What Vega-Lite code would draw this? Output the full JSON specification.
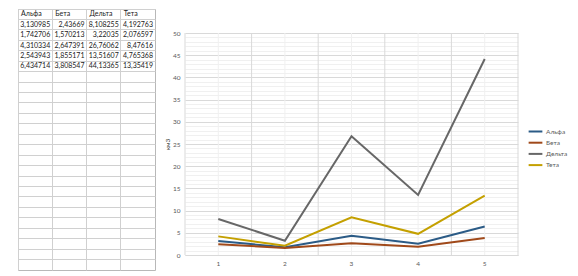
{
  "$schema": "https://vega.github.io/schema/vega-lite/v6.json",
  "padding": {"left": 17, "top": 8, "right": 0, "bottom": 0},
  "background": "white",
  "spacing": 8,
  "config": {"font": "Lato"},
  "data": {"values": [
    {"series": "Альфа", "x": 1, "value": 3.130985, "label": "3,130985"},
    {"series": "Альфа", "x": 2, "value": 1.742706, "label": "1,742706"},
    {"series": "Альфа", "x": 3, "value": 4.310334, "label": "4,310334"},
    {"series": "Альфа", "x": 4, "value": 2.543943, "label": "2,543943"},
    {"series": "Альфа", "x": 5, "value": 6.434714, "label": "6,434714"},
    {"series": "Бета", "x": 1, "value": 2.43669, "label": "2,43669"},
    {"series": "Бета", "x": 2, "value": 1.570213, "label": "1,570213"},
    {"series": "Бета", "x": 3, "value": 2.647391, "label": "2,647391"},
    {"series": "Бета", "x": 4, "value": 1.855171, "label": "1,855171"},
    {"series": "Бета", "x": 5, "value": 3.808547, "label": "3,808547"},
    {"series": "Дельта", "x": 1, "value": 8.108255, "label": "8,108255"},
    {"series": "Дельта", "x": 2, "value": 3.22035, "label": "3,22035"},
    {"series": "Дельта", "x": 3, "value": 26.76062, "label": "26,76062"},
    {"series": "Дельта", "x": 4, "value": 13.51607, "label": "13,51607"},
    {"series": "Дельта", "x": 5, "value": 44.13365, "label": "44,13365"},
    {"series": "Тета", "x": 1, "value": 4.192763, "label": "4,192763"},
    {"series": "Тета", "x": 2, "value": 2.076597, "label": "2,076597"},
    {"series": "Тета", "x": 3, "value": 8.47616, "label": "8,47616"},
    {"series": "Тета", "x": 4, "value": 4.765368, "label": "4,765368"},
    {"series": "Тета", "x": 5, "value": 13.35419, "label": "13,35419"}
  ]},
  "hconcat": [
    {
      "width": 137,
      "height": 261,
      "view": {"stroke": "#b8b8b8", "strokeWidth": 1},
      "layer": [
        {
          "transform": [{"filter": "datum.x == 1"}],
          "mark": {"type": "text", "align": "left", "baseline": "middle", "dx": 3, "fontSize": 7, "color": "#1a1a1a"},
          "encoding": {
            "x": {"field": "series", "type": "nominal", "bandPosition": 0,
              "scale": {"type": "band", "domain": ["Альфа", "Бета", "Дельта", "Тета"], "paddingInner": 0, "paddingOuter": 0},
              "axis": {"orient": "bottom", "labels": false, "ticks": false, "domain": false, "grid": true, "gridColor": "#d0d0d0", "bandPosition": 0, "title": null}},
            "y": {"datum": 0, "type": "ordinal",
              "scale": {"type": "band", "domain": [0,1,2,3,4,5,6,7,8,9,10,11,12,13,14,15,16,17,18,19,20,21,22,23,24], "paddingInner": 0, "paddingOuter": 0},
              "axis": {"orient": "left", "labels": false, "ticks": false, "domain": false, "grid": true, "gridColor": "#d0d0d0", "bandPosition": 0, "title": null}},
            "text": {"field": "series"}
          }
        },
        {
          "mark": {"type": "text", "align": "right", "baseline": "middle", "dx": -2, "fontSize": 7, "color": "#1a1a1a"},
          "encoding": {
            "x": {"field": "series", "type": "nominal", "bandPosition": 1},
            "y": {"field": "x", "type": "ordinal"},
            "text": {"field": "label"}
          }
        }
      ]
    },
    {
      "width": 333,
      "height": 246,
      "view": {"stroke": null},
      "resolve": {"axis": {"x": "independent", "y": "independent"}},
      "layer": [
        {
          "transform": [{"filter": "datum.series == 'Альфа'"}],
          "mark": {"type": "rule", "color": "#f0f0f0", "strokeWidth": 1},
          "encoding": {
            "x": {"field": "x", "type": "ordinal", "bandPosition": 0.5,
              "scale": {"type": "band", "paddingInner": 0, "paddingOuter": 0},
              "axis": null},
            "y": {"datum": 0, "type": "quantitative",
              "scale": {"domain": [0, 50], "nice": false, "range": [246, 24]},
              "axis": {"orient": "left", "values": [1,2,3,4,6,7,8,9,11,12,13,14,16,17,18,19,21,22,23,24,26,27,28,29,31,32,33,34,36,37,38,39,41,42,43,44,46,47,48,49], "labels": false, "ticks": false, "domain": false, "grid": true, "gridColor": "#f0f0f0", "title": null, "minExtent": 0, "maxExtent": 0}},
            "y2": {"datum": 50}
          }
        },
        {
          "transform": [{"filter": "datum.series == 'Альфа'"}],
          "mark": {"type": "rule", "color": "#d9d9d9", "strokeWidth": 1},
          "encoding": {
            "x": {"field": "x", "type": "ordinal", "bandPosition": 0, "axis": null},
            "y": {"datum": 0, "type": "quantitative", "axis": null},
            "y2": {"datum": 50}
          }
        },
        {
          "transform": [{"filter": "datum.series == 'Альфа' && datum.x == 5"}],
          "mark": {"type": "rule", "color": "#d9d9d9", "strokeWidth": 1},
          "encoding": {
            "x": {"field": "x", "type": "ordinal", "bandPosition": 1, "axis": null},
            "y": {"datum": 0, "type": "quantitative", "axis": null},
            "y2": {"datum": 50}
          }
        },
        {
          "mark": {"type": "line", "strokeWidth": 2},
          "encoding": {
            "x": {"field": "x", "type": "ordinal", "bandPosition": 0.5,
              "axis": {"orient": "bottom", "labelAngle": 0, "labelFontSize": 6.5, "labelColor": "#595959", "labelPadding": 5, "ticks": false, "domain": true, "domainColor": "#d9d9d9", "grid": false, "bandPosition": 0.5, "title": null}},
            "y": {"field": "value", "type": "quantitative",
              "axis": {"orient": "left", "values": [0,5,10,15,20,25,30,35,40,45,50], "labelFontSize": 6.5, "labelColor": "#595959", "labelPadding": 5, "ticks": false, "domain": false, "grid": true, "gridColor": "#d9d9d9", "title": "км3", "titleFontSize": 6.5, "titleFontWeight": "normal", "titleColor": "#404040", "titlePadding": 3, "minExtent": 12, "maxExtent": 12}},
            "color": {"field": "series", "type": "nominal",
              "scale": {"domain": ["Альфа", "Бета", "Дельта", "Тета"], "range": ["#2B5B86", "#A0491A", "#676767", "#C4A000"]},
              "legend": {"orient": "none", "legendX": 511, "legendY": 116, "title": null, "symbolType": "M-1.25,0H1.25", "symbolSize": 121, "symbolStrokeWidth": 2, "labelFontSize": 6.5, "labelColor": "#595959", "labelOffset": 4, "rowPadding": 0.2}}
          }
        }
      ]
    }
  ]
}
